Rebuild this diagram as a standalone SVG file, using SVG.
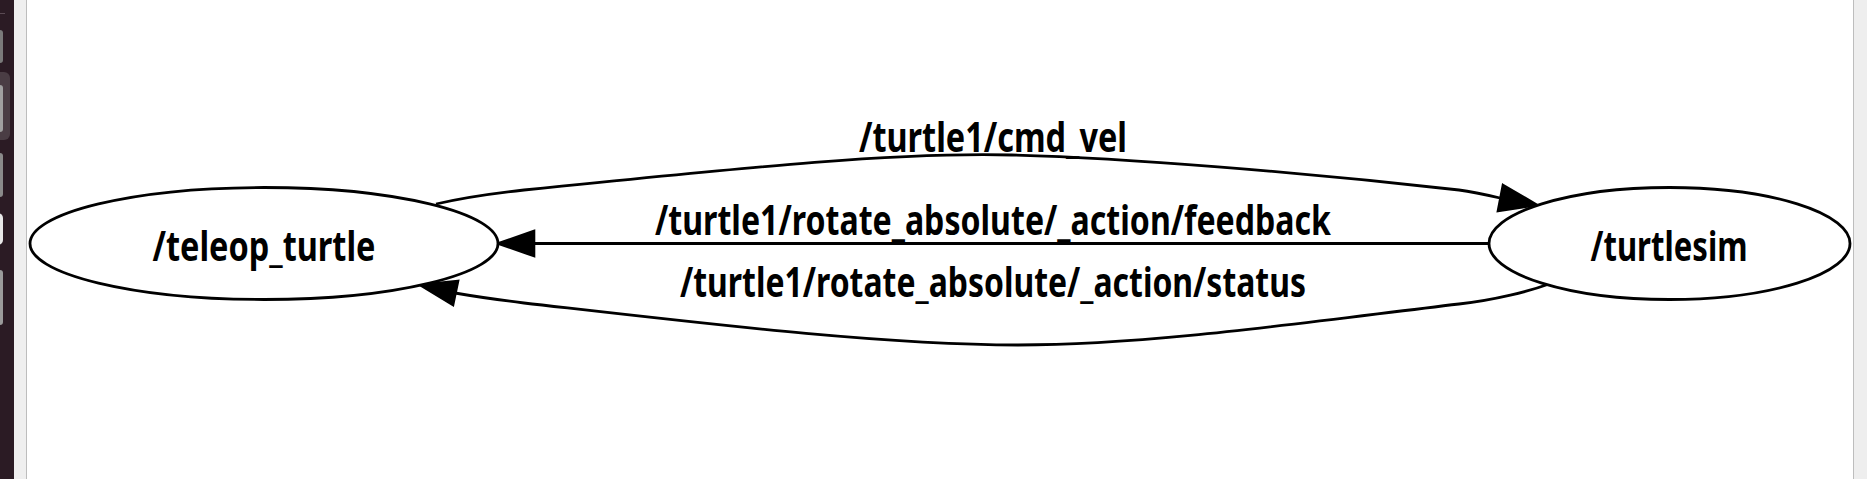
<svg xmlns="http://www.w3.org/2000/svg" width="1867" height="479" viewBox="0 0 1867 479">
<style>
.node ellipse{fill:#ffffff;stroke:#000000;stroke-width:2.8}
.edge path{fill:none;stroke:#000000;stroke-width:2.8}
.edge polygon{fill:#000000;stroke:#000000;stroke-width:2.6}
text{font-family:"Noto Sans","DejaVu Sans",sans-serif;font-size:41px;font-weight:700;fill:#000000;text-anchor:middle}
</style>
<rect x="0" y="0" width="1867" height="479" fill="#ffffff"/>
<g id="chrome">
<rect x="0" y="0" width="14" height="479" fill="#2b1b24"/>
<line x1="0" y1="13.5" x2="5" y2="13.5" stroke="#5a4a53" stroke-width="1"/>
<rect x="-8" y="30" width="11" height="33" rx="3" fill="#7a7a7a"/>
<rect x="-8" y="72" width="18" height="68" rx="6" fill="#4a3d44"/>
<rect x="-8" y="85" width="11" height="47" rx="3" fill="#a0a0a0"/>
<rect x="-8" y="153" width="11" height="44" rx="3" fill="#8a8a8a"/>
<rect x="-8" y="213" width="11" height="32" rx="5" fill="#e8e8e8"/>
<rect x="-8" y="270" width="11" height="55" rx="3" fill="#9a9a9a"/>
<rect x="14" y="0" width="12" height="479" fill="#efefef"/>
<rect x="26" y="0" width="1" height="479" fill="#bdbdbd"/>
<rect x="1853" y="0" width="1" height="479" fill="#bdbdbd"/>
<rect x="1854" y="0" width="13" height="479" fill="#eeeeee"/>
</g>
<g id="edges">
<g class="edge" id="edge_cmd_vel">
<path d="M436,204 C466,197 496,193 524,190 C760,166 900,152 1012,155 C1124,158 1300,172 1459,190 C1474,192 1487,195 1500,198"/>
<polygon points="1503,185 1537,205 1498,211"/>
<text x="993" y="152" textLength="268" lengthAdjust="spacingAndGlyphs">/turtle1/cmd_vel</text>
</g>
<g class="edge" id="edge_feedback">
<path d="M1489,243.5 L534,243.5"/>
<polygon points="534,231 498,243.5 534,256"/>
<text x="993" y="235" textLength="676" lengthAdjust="spacingAndGlyphs">/turtle1/rotate_absolute/_action/feedback</text>
</g>
<g class="edge" id="edge_status">
<path d="M1549,284 C1530,291 1495,300 1459,304 C1300,323 1150,345 1018,345 C880,345 700,323 524,303 C500,300 478,297 455,293"/>
<polygon points="458,281 420,285 453,305"/>
<text x="993" y="297" textLength="626" lengthAdjust="spacingAndGlyphs">/turtle1/rotate_absolute/_action/status</text>
</g>
</g>
<g class="node" id="node_teleop_turtle">
<ellipse cx="264" cy="243.5" rx="234" ry="56"/>
<text x="264" y="261" textLength="223" lengthAdjust="spacingAndGlyphs">/teleop_turtle</text>
</g>
<g class="node" id="node_turtlesim">
<ellipse cx="1669.5" cy="243.5" rx="180.5" ry="56"/>
<text x="1669" y="261" textLength="157" lengthAdjust="spacingAndGlyphs">/turtlesim</text>
</g>
</svg>
